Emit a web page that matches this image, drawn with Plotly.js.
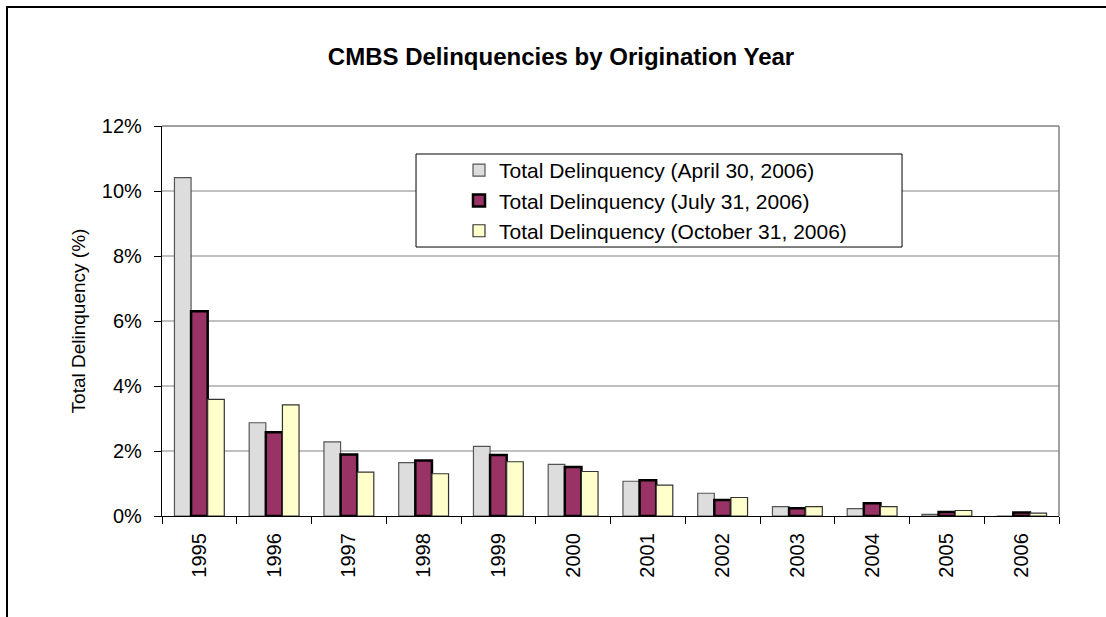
<!DOCTYPE html>
<html>
<head>
<meta charset="utf-8">
<script src="https://cdn.plot.ly/plotly-3.0.1.min.js"></script>
<style>
  html, body { margin: 0; padding: 0; background: #fff; }
  #wrap { position: relative; width: 1106px; height: 617px; }
  #chart { position: absolute; left: 0; top: 0; width: 1106px; height: 617px; }
  #frame { position: absolute; left: 6px; top: 6px; width: 1100px; height: 611px;
           border-left: 2px solid #000; border-top: 2px solid #000; pointer-events: none; box-sizing: border-box; }
</style>
</head>
<body>
<div id="wrap">
  <div id="chart"></div>
  <div id="frame"></div>
</div>
<script>
const years = ['1995','1996','1997','1998','1999','2000','2001','2002','2003','2004','2005','2006'];
const seriesNames = [
  'Total Delinquency (April 30, 2006)',
  'Total Delinquency (July 31, 2006)',
  'Total Delinquency (October 31, 2006)'
];
const april30 = [10.41, 2.87, 2.28, 1.64, 2.14, 1.59, 1.07, 0.70, 0.29, 0.23, 0.05, 0.00];
const july31  = [6.30, 2.58, 1.89, 1.71, 1.88, 1.51, 1.10, 0.49, 0.24, 0.39, 0.12, 0.11];
const oct31   = [3.59, 3.42, 1.35, 1.30, 1.67, 1.37, 0.95, 0.57, 0.29, 0.29, 0.17, 0.09];
const yTicks = [0, 2, 4, 6, 8, 10, 12];
const yTickLabels = ['0%', '2%', '4%', '6%', '8%', '10%', '12%'];

const FONT = 'Liberation Sans, Arial, sans-serif';

const traces = [
  { type: 'bar', name: seriesNames[0], x: years, y: april30,
    marker: { color: '#DDDDDD', line: { color: '#555555', width: 1.2 } } },
  { type: 'bar', name: seriesNames[1], x: years, y: july31,
    marker: { color: '#993366', line: { color: '#000000', width: 2.5 } } },
  { type: 'bar', name: seriesNames[2], x: years, y: oct31,
    marker: { color: '#FFFFCC', line: { color: '#333333', width: 1.2 } } }
];

const layout = {
  width: 1106, height: 617,
  margin: { l: 162, r: 47, t: 126, b: 101, pad: 0 },
  paper_bgcolor: '#ffffff', plot_bgcolor: '#ffffff',
  font: { family: FONT, size: 20, color: '#000' },
  title: { text: '<b>CMBS Delinquencies by Origination Year</b>',
           font: { family: FONT, size: 24, color: '#000' },
           x: 561 / 1106, xref: 'container', xanchor: 'center', y: 0.909, yanchor: 'middle' },
  barmode: 'group', bargap: 0.333, bargroupgap: 0,
  showlegend: true,
  legend: { x: 0.3311, y: 0.9385, xanchor: 'left', yanchor: 'top',
            bgcolor: 'rgba(0,0,0,0)', borderwidth: 0,
            font: { family: FONT, size: 21, color: '#000' },
            tracegroupgap: 0, traceorder: 'normal' },
  xaxis: { type: 'category', tickangle: -90, tickson: 'boundaries',
           ticks: 'outside', ticklen: 7, tickcolor: '#000', tickwidth: 1,
           ticklabelstandoff: 8,
           showline: true, linecolor: '#000', linewidth: 1.2, mirror: false,
           showgrid: false, tickfont: { family: FONT, size: 20, color: '#000' } },
  yaxis: { range: [0, 12], tickvals: yTicks, ticktext: yTickLabels,
           ticks: 'outside', ticklen: 7, tickcolor: '#000', tickwidth: 1,
           ticklabelstandoff: 8,
           showline: true, linecolor: '#000', linewidth: 1.2,
           showgrid: true, gridcolor: '#C0C0C0', gridwidth: 1.5, zeroline: false,
           tickfont: { family: FONT, size: 20, color: '#000' },
           title: { text: 'Total Delinquency (%)', font: { family: FONT, size: 19, color: '#000' }, standoff: 11 } },
  shapes: [
    { type: 'line', xref: 'paper', yref: 'paper', x0: 0, x1: 1, y0: 1, y1: 1, line: { color: '#808080', width: 1.5 } },
    { type: 'line', xref: 'paper', yref: 'paper', x0: 1, x1: 1, y0: 0, y1: 1, line: { color: '#808080', width: 1.5 } },
    { type: 'rect', layer: 'above', xref: 'paper', yref: 'paper', x0: 0.2832, x1: 0.825, y0: 0.6897, y1: 0.9282,
      fillcolor: '#ffffff', line: { color: '#000000', width: 1 } }
  ]
};

Plotly.newPlot('chart', traces, layout, { displayModeBar: false, staticPlot: true });
</script>
</body>
</html>
